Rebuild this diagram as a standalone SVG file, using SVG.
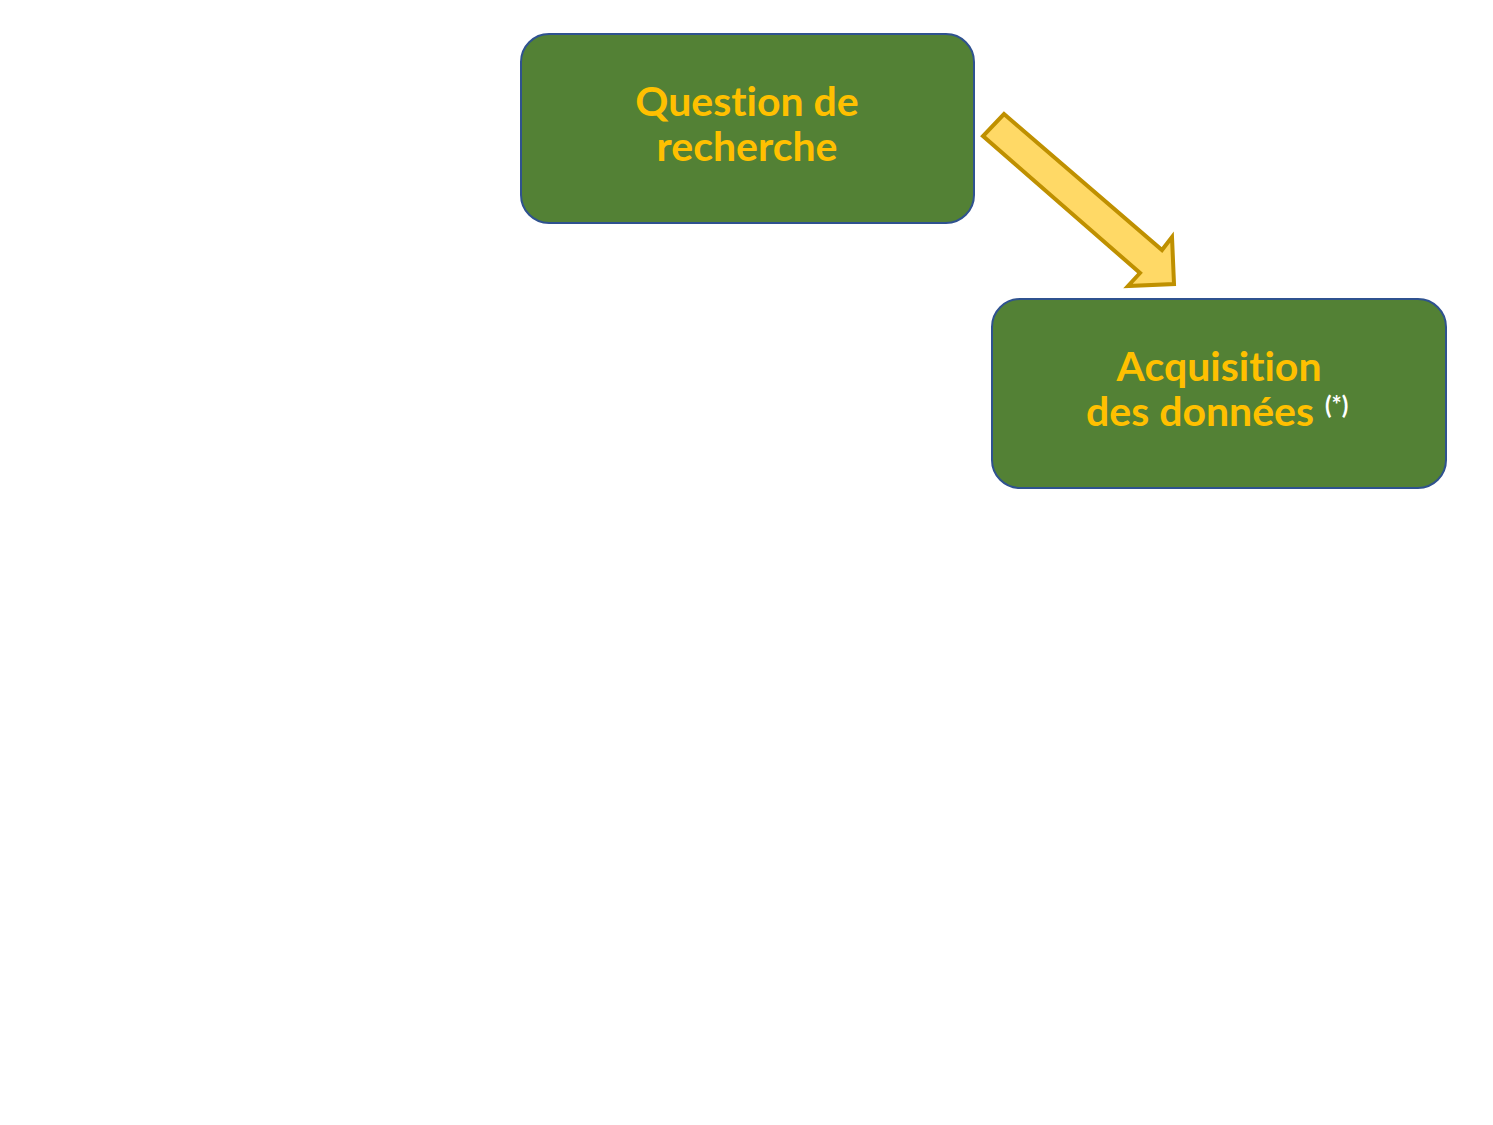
<svg xmlns="http://www.w3.org/2000/svg" width="1493" height="1125" viewBox="0 0 1493 1125">
<style>
.box{fill:#538135;stroke:#2F528F;stroke-width:2}
.lbl{font-family:Lato,"Open Sans",sans-serif;font-weight:bold;font-size:41px;fill:#FFC000;text-anchor:middle;font-variant-ligatures:none}
.sup{font-family:Lato,"Open Sans",sans-serif;font-weight:bold;font-size:24px;fill:#FFFFFF}
.arr{fill:#FFD966;stroke:#BF9000;stroke-width:4;stroke-linejoin:miter}
</style>
<rect width="1493" height="1125" fill="#FFFFFF"/>
<g id="node-question">
<rect class="box" x="521" y="34" width="453" height="189" rx="28"/>
<text class="lbl" x="747" y="116">Question de</text>
<text class="lbl" x="747" y="161">recherche</text>
</g>
<g id="node-acquisition">
<rect class="box" x="992" y="299" width="454" height="189" rx="28"/>
<text class="lbl" x="1219" y="381">Acquisition</text>
<text class="lbl" x="1200" y="426">des données</text>
<text class="sup" x="1325" y="414">(*)</text>
</g>
<g id="connectors">
<polygon class="arr" points="1004,114 1162,250 1172,237 1174,284 1128,286 1140,273 983,136"/>
</g>
</svg>
